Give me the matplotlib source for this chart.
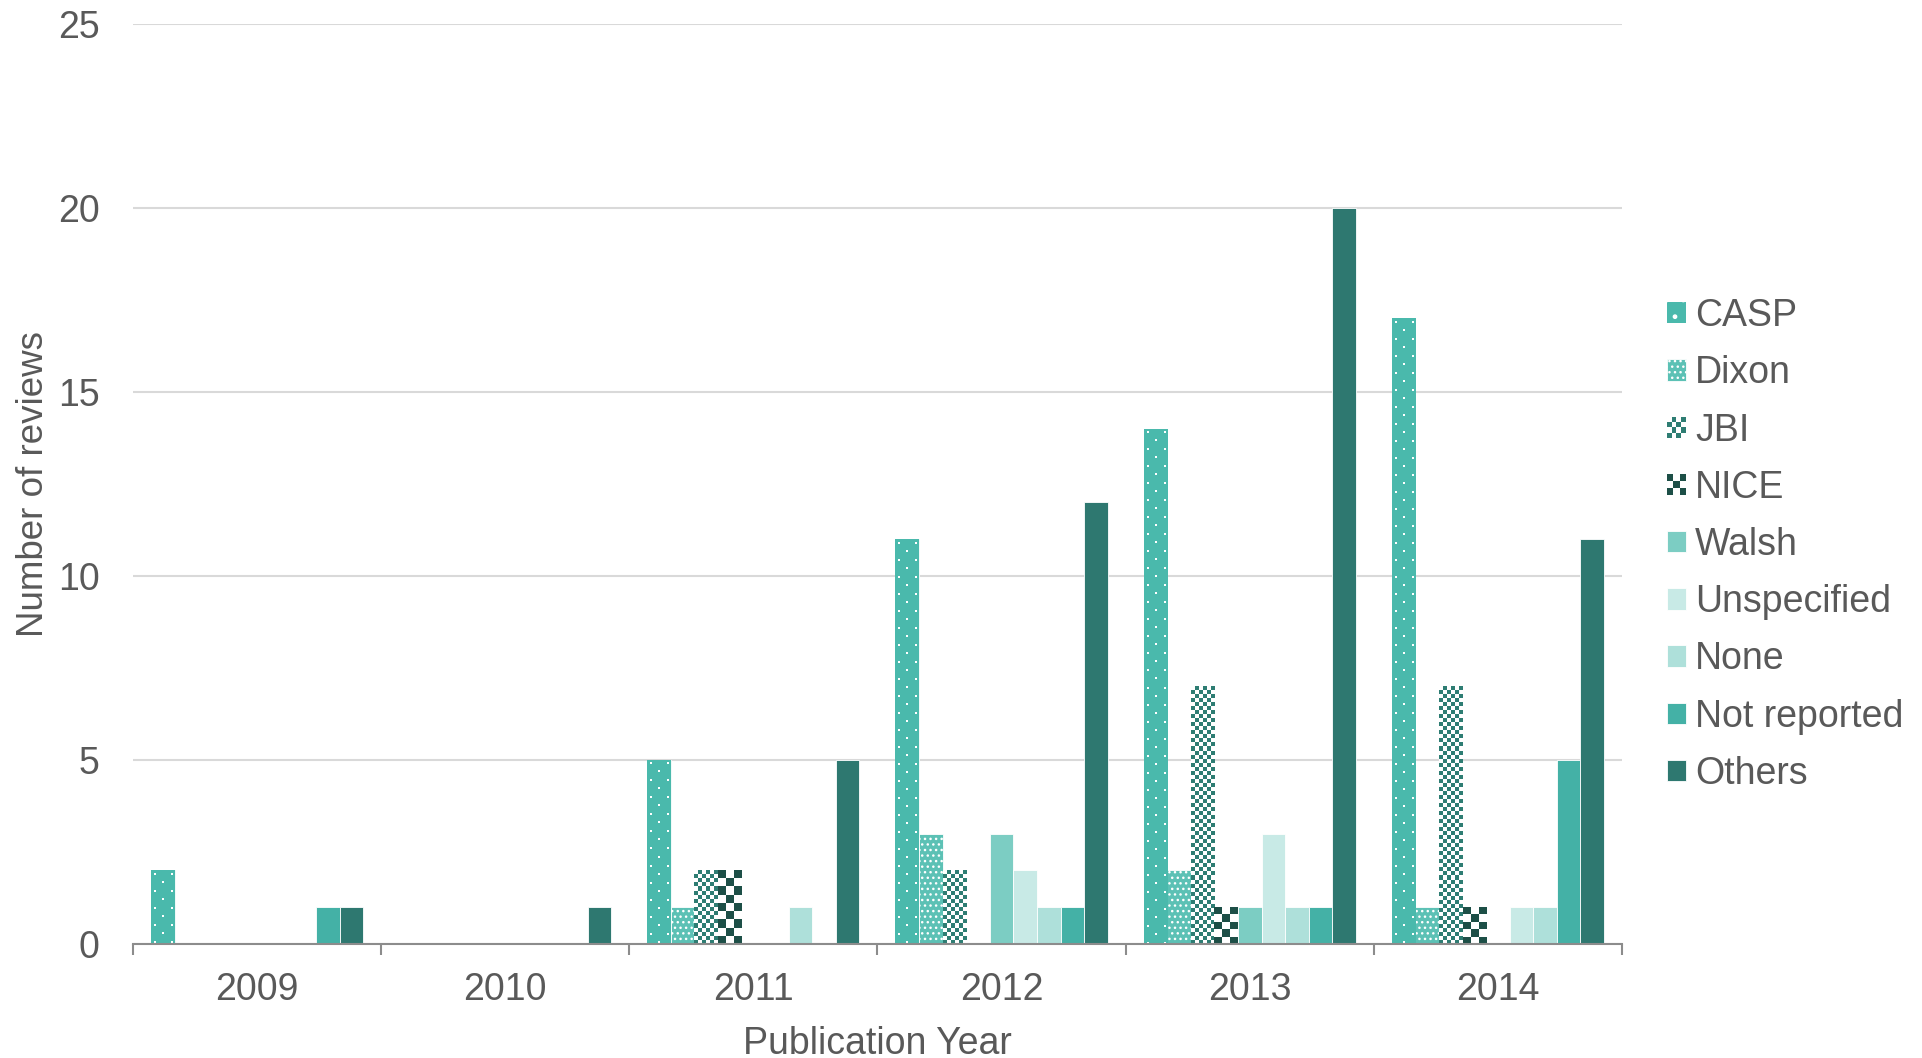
import numpy as np
import matplotlib
matplotlib.use("Agg")
import matplotlib.pyplot as plt
from matplotlib.colors import ListedColormap, to_rgb
from matplotlib.patches import Rectangle, Patch
from matplotlib.legend_handler import HandlerBase

plt.rcParams['font.family'] = ['Liberation Sans', 'DejaVu Sans']
plt.rcParams['hatch.linewidth'] = 1.0

# data
years = ['2009', '2010', '2011', '2012', '2013', '2014']
tools = ['CASP', 'Dixon', 'JBI', 'NICE', 'Walsh', 'Unspecified', 'None',
         'Not reported', 'Others']
casp = [2, 0, 5, 11, 14, 17]
dixon = [0, 0, 1, 3, 2, 1]
jbi = [0, 0, 2, 2, 7, 7]
nice = [0, 0, 2, 0, 1, 1]
walsh = [0, 0, 0, 3, 1, 0]
unspecified = [0, 0, 0, 2, 3, 1]
none_ = [0, 0, 1, 1, 1, 1]
not_reported = [1, 0, 0, 1, 1, 5]
others = [1, 1, 5, 12, 20, 11]

series = [casp, dixon, jbi, nice, walsh, unspecified, none_, not_reported, others]
colors = ['#4ab9ac', '#5cc1b5', '#2e7d73', '#1d4f47', '#7ccdc3',
          '#c8eae6', '#aee0da', '#44b1a6', '#2e7870']
# 'sparse' -> staggered white dots image, 'hatch' -> mpl hatch,
# 'checker' -> cell size in px
styles = [('sparse', None), ('hatch', '...'), ('checker', 4), ('checker', 8),
          None, None, None, None, None]

txt = '#595959'
axc = '#8c8c8c'


class CheckerHandler(HandlerBase):
    def __init__(self, color, n):
        super().__init__()
        self.color = color
        self.n = n

    def create_artists(self, legend, orig_handle, xdescent, ydescent,
                       width, height, fontsize, trans):
        out = []
        cw, ch = width / self.n, height / self.n
        for i in range(self.n):
            for k in range(self.n):
                c = self.color if (i + k) % 2 == 0 else 'white'
                out.append(Rectangle((-xdescent + i * cw, -ydescent + k * ch), cw, ch,
                                     facecolor=c, edgecolor='none', transform=trans))
        return out


def dot_image(nrow, ncol, col):
    img = np.ones((nrow, ncol, 3)) * np.array(to_rgb(col))
    for r in range(nrow):
        if r % 17 in (3, 4):
            cs = [c for c in range(ncol) if c % 17 in (3, 4)]
        elif r % 17 in (11, 12):
            cs = [c for c in range(ncol) if c % 17 in (11, 12)]
        else:
            continue
        img[r, cs] = 1.0
    return img


fig = plt.figure(figsize=(19.22, 10.58), dpi=100)
ax = fig.add_axes([0.0692, 0.1078, 0.7747, 0.8696])
ax.set_xlim(0, 6)
ax.set_ylim(0, 25)

px_x = ax.bbox.width / 6
px_y = ax.bbox.height / 25

x = np.arange(len(years)) + 0.5
w = 0.095
handles = []
hmap = {}
for j, (vals, col, st) in enumerate(zip(series, colors, styles)):
    xs = x + (j - 4) * w
    if st is None:
        bars = ax.bar(xs, vals, w, color=col, edgecolor='white', linewidth=0.6)
        handles.append(bars)
    elif st[0] == 'hatch':
        bars = ax.bar(xs, vals, w, color=col, edgecolor='white', linewidth=0.6,
                      hatch=st[1])
        handles.append(bars)
    elif st[0] == 'sparse':
        bars = ax.bar(xs, vals, w, color=col, edgecolor='white', linewidth=0.6)
        for rect in bars:
            h = rect.get_height()
            if h <= 0:
                continue
            x0 = rect.get_x()
            ncol = int(round(w * px_x))
            nrow = int(round(h * px_y))
            im = ax.imshow(dot_image(nrow, ncol, col)[::-1],
                           extent=(x0, x0 + w, 0, h), origin='lower',
                           aspect='auto', interpolation='nearest', zorder=1.5)
            im.set_clip_path(rect)
        handles.append(Patch(facecolor=col, edgecolor='white', linewidth=0, hatch='.'))
    else:
        cell = st[1]
        bars = ax.bar(xs, vals, w, color='white', linewidth=0)
        for rect in bars:
            h = rect.get_height()
            if h <= 0:
                continue
            x0 = rect.get_x()
            ncol = max(1, int(round(w * px_x / cell)))
            nrow = max(1, int(round(h * px_y / cell)))
            grid = np.add.outer(np.arange(nrow), np.arange(ncol)) % 2
            im = ax.imshow(grid, cmap=ListedColormap([col, 'white']),
                           extent=(x0, x0 + w, 0, h), origin='lower',
                           aspect='auto', interpolation='nearest', zorder=1.5)
            im.set_clip_path(rect)
        proxy = Patch(facecolor=col)
        hmap[proxy] = CheckerHandler(col, 4 if cell < 6 else 3)
        handles.append(proxy)

ax.set_xlim(0, 6)
ax.set_ylim(0, 25)
ax.set_aspect('auto')

ax.set_xticks(np.arange(7), labels=[''] * 7)
ax.set_xticks(x, labels=years, minor=True)
ax.tick_params(axis='x', which='major', length=8, width=1.5, color=axc, direction='out')
ax.tick_params(axis='x', which='minor', length=0, pad=20, labelsize=27, labelcolor=txt)
ax.set_yticks(range(0, 26, 5))
ax.tick_params(axis='y', length=0, pad=24, labelsize=27, labelcolor=txt)

ax.set_axisbelow(True)
ax.yaxis.grid(True, color='#d9d9d9', linewidth=1.5)
for s in ['top', 'right', 'left']:
    ax.spines[s].set_visible(False)
ax.spines['bottom'].set_color(axc)
ax.spines['bottom'].set_linewidth(1.5)

ax.set_xlabel('Publication Year', fontsize=27, color=txt)
ax.xaxis.set_label_coords(0.5, -0.089)
ax.set_ylabel('Number of reviews', fontsize=26.5, color=txt)
ax.yaxis.set_label_coords(-0.055, 0.5)

ax.legend(handles, tools, handler_map=hmap, loc='center left',
          bbox_to_anchor=(1667 / 1922, 0.4849), bbox_transform=fig.transFigure,
          frameon=False, fontsize=27, handlelength=0.5, handleheight=0.5,
          handletextpad=0.25, labelspacing=0.566, borderpad=0, borderaxespad=0,
          labelcolor=txt)

fig.savefig('out.png', dpi=100)
